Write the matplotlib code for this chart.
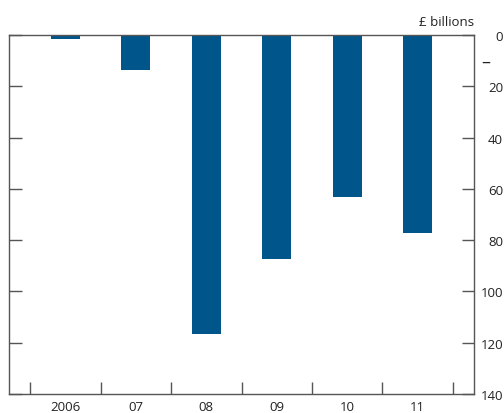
import matplotlib.pyplot as plt

plt.rcParams['font.family'] = ['Open Sans', 'DejaVu Sans']

years = ['2006', '07', '08', '09', '10', '11']
values = [1.5, 13.6, 116.6, 87.4, 63.2, 77.2]  # £ billions (negative)
yticks = [0, 20, 40, 60, 80, 100, 120, 140]

bar_color = '#00558b'
axis_color = '#555555'

fig = plt.figure(figsize=(5.04, 4.14), dpi=100)
ax = fig.add_axes([0.0179, 0.0459, 0.9226, 0.8671])

x = list(range(len(years)))
ax.bar(x, values, width=0.41, color=bar_color, zorder=2)

ax.set_xlim(-0.8, len(years) - 0.2)
ax.set_ylim(140, 0)

for s in ax.spines.values():
    s.set_color(axis_color)
    s.set_linewidth(1.0)

# y axis: ticks both sides, labels on the right
ax.set_yticks(yticks)
ax.yaxis.set_ticks_position('both')
ax.yaxis.set_tick_params(which='major', direction='in', length=9, width=1,
                         color=axis_color, labelleft=False, labelright=True,
                         labelsize=9.5, pad=21, labelcolor='#222222')
for lab in ax.get_yticklabels():
    lab.set_horizontalalignment('right')

# x axis: ticks at category boundaries, labels at centres
ax.set_xticks([i - 0.5 for i in range(len(years) + 1)])
ax.set_xticklabels([])
ax.set_xticks(x, minor=True)
ax.set_xticklabels(years, minor=True)
ax.tick_params(axis='x', which='major', direction='in', length=9, width=1,
               color=axis_color)
ax.tick_params(axis='x', which='minor', length=0, pad=4, labelsize=9.5,
               labelcolor='#222222')

ax.text(1.0, 1.02, '£ billions', transform=ax.transAxes, ha='right',
        va='bottom', fontsize=9.5, color='#222222')
ax.text(1.016, 10.5, '–', transform=ax.get_yaxis_transform(), ha='left',
        va='center', fontsize=13, color='#222222')

fig.savefig('out.png', dpi=100)
